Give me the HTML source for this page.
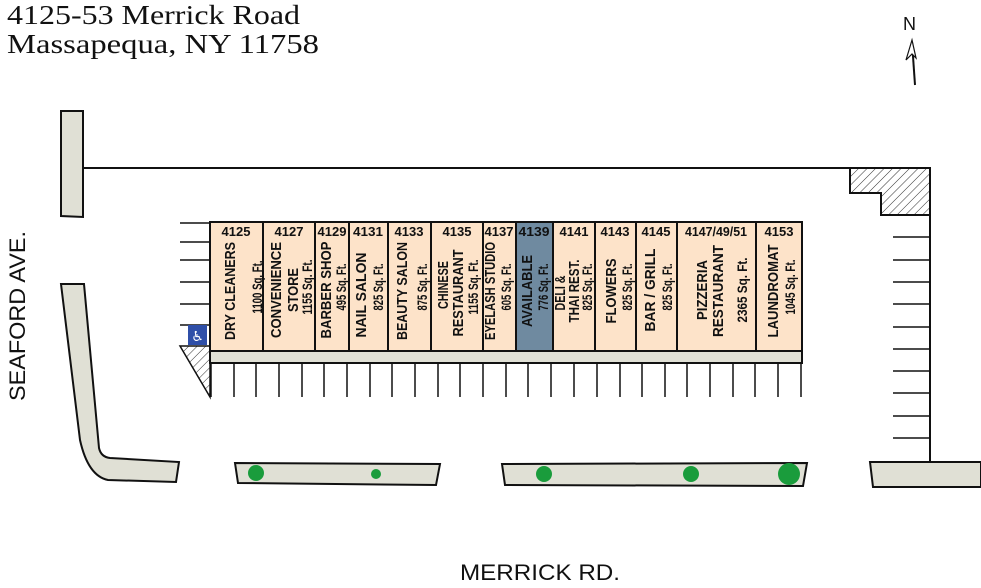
<!DOCTYPE html>
<html><head><meta charset="utf-8"><style>html,body{margin:0;padding:0;background:#fff}svg{display:block}</style></head>
<body>
<svg width="981" height="588" viewBox="0 0 981 588" xmlns="http://www.w3.org/2000/svg">
<defs>
<pattern id="h" width="6" height="6" patternUnits="userSpaceOnUse" patternTransform="rotate(45)">
<rect width="6" height="6" fill="#fff"/><line x1="0" y1="0" x2="0" y2="6" stroke="#333" stroke-width="1"/>
</pattern>
</defs>
<g font-family="Liberation Serif, serif" font-size="27" fill="#111">
<text x="7" y="24" textLength="293" lengthAdjust="spacingAndGlyphs">4125-53 Merrick Road</text>
<text x="7" y="53" textLength="312" lengthAdjust="spacingAndGlyphs">Massapequa, NY 11758</text>
</g>
<text x="903" y="30" font-family="Liberation Sans, sans-serif" font-size="18" fill="#111">N</text>
<path d="M915 85 L912 42" stroke="#111" stroke-width="2"/>
<path d="M912 40 L906 60 L912 54 L916 58 Z" fill="#fff" stroke="#111" stroke-width="1.2"/>
<g stroke="#111" stroke-width="2" fill="#e0e0d5">
<path d="M61 111 L83 111 L83 217 L61 216 Z"/>
<path d="M61 284 L84 284 L99 448 Q101 457 110 458 L179 462 L176 482 L108 480 Q88 476 80 440 Z"/>
<path d="M235 463 L440 464 L436 485 L238 483 Z"/>
<path d="M502 464 L807 463 L803 486 L505 485 Z"/>
<path d="M870 462 L981 462 L981 487 L873 487 Z"/>
</g>
<g fill="#1a9c3c">
<circle cx="256" cy="473" r="8"/><circle cx="376" cy="474" r="5"/>
<circle cx="544" cy="474" r="8"/><circle cx="691" cy="474" r="8"/><circle cx="789" cy="474" r="11"/>
</g>
<path d="M83 168 H930 V462" fill="none" stroke="#111" stroke-width="2"/>
<path d="M850 168 H930 V215 H881 V193 H850 Z" fill="url(#h)" stroke="#111" stroke-width="2"/>
<g stroke="#111" stroke-width="1.5">
<path d="M893 237H930M893 260H930M893 282H930M893 304H930M893 327H930M893 349H930M893 371H930M893 393H930M893 416H930M893 438H930"/>
<path d="M180 223H210M180 242H210M180 260H210M180 282H210M180 304H210M180 325H210"/>
<path d="M211 363V397M234 363V397M256 363V397M279 363V397M302 363V397M324 363V397M347 363V397M370 363V397M392 363V397M415 363V397M438 363V397M460 363V397M483 363V397M506 363V397M528 363V397M551 363V397M574 363V397M597 363V397M620 363V397M642 363V397M665 363V397M687 363V397M710 363V397M733 363V397M755 363V397M778 363V397M801 363V397"/>
</g>
<path d="M180 346 H210 V397 Z" fill="url(#h)" stroke="#111" stroke-width="1.5"/>
<rect x="188" y="325" width="19" height="20" fill="#2f4fa8"/>
<text x="197.5" y="341" font-family="DejaVu Sans, sans-serif" font-size="14" fill="#fff" text-anchor="middle">♿</text>
<rect x="210" y="351" width="592" height="12" fill="#e0e0d5" stroke="#111" stroke-width="2"/>
<rect x="210" y="222" width="592" height="129" fill="#fde3c9" stroke="#111" stroke-width="2"/>
<rect x="516" y="222" width="37" height="129" fill="#6f8aa0" stroke="#111" stroke-width="2"/>
<path d="M263 222V351M315 222V351M349 222V351M388 222V351M431 222V351M483 222V351M516 222V351M553 222V351M595 222V351M636 222V351M677 222V351M756 222V351" stroke="#111" stroke-width="2"/>
<g font-family="Liberation Sans, sans-serif" font-weight="bold" font-size="13" fill="#111" text-anchor="middle">
<text x="236" y="236">4125</text><text x="289" y="236">4127</text><text x="332" y="236" textLength="29" lengthAdjust="spacingAndGlyphs">4129</text>
<text x="368" y="236" textLength="30" lengthAdjust="spacingAndGlyphs">4131</text><text x="409" y="236">4133</text><text x="457" y="236">4135</text>
<text x="499" y="236" textLength="29" lengthAdjust="spacingAndGlyphs">4137</text><text x="534" y="236" textLength="31" lengthAdjust="spacingAndGlyphs">4139</text><text x="574" y="236">4141</text>
<text x="615" y="236">4143</text><text x="656" y="236">4145</text><text x="716" y="236" textLength="62" lengthAdjust="spacingAndGlyphs">4147/49/51</text>
<text x="779" y="236">4153</text>
</g>
<g font-family="Liberation Sans, sans-serif" font-weight="bold" font-size="15" fill="#111" text-anchor="middle">
<text transform="translate(235,291) rotate(-90)" textLength="98" lengthAdjust="spacingAndGlyphs">DRY CLEANERS</text>
<text transform="translate(281,290) rotate(-90)" textLength="96" lengthAdjust="spacingAndGlyphs">CONVENIENCE</text>
<text transform="translate(298,290) rotate(-90)" textLength="44" lengthAdjust="spacingAndGlyphs">STORE</text>
<text transform="translate(331,290) rotate(-90)" textLength="97" lengthAdjust="spacingAndGlyphs">BARBER SHOP</text>
<text transform="translate(366,295) rotate(-90)" textLength="85" lengthAdjust="spacingAndGlyphs">NAIL SALON</text>
<text transform="translate(407,291) rotate(-90)" textLength="98" lengthAdjust="spacingAndGlyphs">BEAUTY SALON</text>
<text transform="translate(448,285) rotate(-90)" textLength="48" lengthAdjust="spacingAndGlyphs">CHINESE</text>
<text transform="translate(463,293) rotate(-90)" textLength="87" lengthAdjust="spacingAndGlyphs">RESTAURANT</text>
<text transform="translate(495,291) rotate(-90)" textLength="98" lengthAdjust="spacingAndGlyphs">EYELASH STUDIO</text>
<text transform="translate(532,291) rotate(-90)" textLength="72" lengthAdjust="spacingAndGlyphs">AVAILABLE</text>
<text transform="translate(565,293) rotate(-90)" textLength="35" lengthAdjust="spacingAndGlyphs">DELI &amp;</text>
<text transform="translate(579,291) rotate(-90)" textLength="63" lengthAdjust="spacingAndGlyphs">THAI REST.</text>
<text transform="translate(616,291) rotate(-90)" textLength="65" lengthAdjust="spacingAndGlyphs">FLOWERS</text>
<text transform="translate(655,290) rotate(-90)" textLength="83" lengthAdjust="spacingAndGlyphs">BAR / GRILL</text>
<text transform="translate(707,290) rotate(-90)" textLength="60" lengthAdjust="spacingAndGlyphs">PIZZERIA</text>
<text transform="translate(723,291) rotate(-90)" textLength="92" lengthAdjust="spacingAndGlyphs">RESTAURANT</text>
<text transform="translate(778,291) rotate(-90)" textLength="93" lengthAdjust="spacingAndGlyphs">LAUNDROMAT</text>
</g>
<g font-family="Liberation Sans, sans-serif" font-weight="bold" font-size="14" fill="#111" text-anchor="middle">
<text transform="translate(262,287) rotate(-90)" textLength="53" lengthAdjust="spacingAndGlyphs">1100 Sq. Ft.</text>
<text transform="translate(312,287) rotate(-90)" textLength="55" lengthAdjust="spacingAndGlyphs">1155 Sq. Ft.</text>
<text transform="translate(346,287) rotate(-90)" textLength="47" lengthAdjust="spacingAndGlyphs">495 Sq. Ft.</text>
<text transform="translate(383,287) rotate(-90)" textLength="47" lengthAdjust="spacingAndGlyphs">825 Sq. Ft.</text>
<text transform="translate(427,287) rotate(-90)" textLength="47" lengthAdjust="spacingAndGlyphs">875 Sq. Ft.</text>
<text transform="translate(478,287) rotate(-90)" textLength="55" lengthAdjust="spacingAndGlyphs">1155 Sq. Ft.</text>
<text transform="translate(511,287) rotate(-90)" textLength="47" lengthAdjust="spacingAndGlyphs">605 Sq. Ft.</text>
<text transform="translate(548,287) rotate(-90)" textLength="47" lengthAdjust="spacingAndGlyphs">776 Sq. Ft.</text>
<text transform="translate(592,287) rotate(-90)" textLength="47" lengthAdjust="spacingAndGlyphs">825 Sq. Ft.</text>
<text transform="translate(632,287) rotate(-90)" textLength="47" lengthAdjust="spacingAndGlyphs">825 Sq. Ft.</text>
<text transform="translate(672,287) rotate(-90)" textLength="47" lengthAdjust="spacingAndGlyphs">825 Sq. Ft.</text>
<text transform="translate(747,290) rotate(-90)" textLength="65" lengthAdjust="spacingAndGlyphs">2365 Sq. Ft.</text>
<text transform="translate(795,287) rotate(-90)" textLength="55" lengthAdjust="spacingAndGlyphs">1045 Sq. Ft.</text>
</g>
<g font-family="Liberation Sans, sans-serif" font-size="22" fill="#111">
<text transform="translate(25,316) rotate(-90)" text-anchor="middle" textLength="170" lengthAdjust="spacingAndGlyphs">SEAFORD AVE.</text>
<text x="460" y="580" textLength="160" lengthAdjust="spacingAndGlyphs">MERRICK RD.</text>
</g>
</svg>
</body></html>
